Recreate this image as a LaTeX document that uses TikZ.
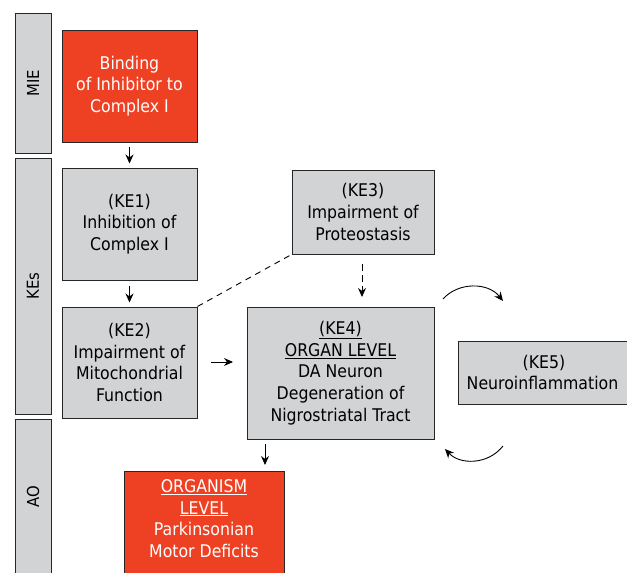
\documentclass[tikz,border=0pt]{standalone}
\usepackage{fontspec}
\setmainfont{DejaVu Sans Condensed}
\usetikzlibrary{arrows.meta}
\definecolor{aopred}{HTML}{EE4124}
\definecolor{aopgrey}{HTML}{D1D3D4}
\begin{document}
\begin{tikzpicture}[x=1pt,y=-1pt,
  box/.style={draw=black!85,line width=1pt,align=center,inner sep=0pt,font=\fontsize{17.5}{21.7}\selectfont},
  greybox/.style={box,fill=aopgrey,text=black},
  redbox/.style={box,fill=aopred,text=white},
  side/.style={draw=black!85,line width=1pt,fill=aopgrey,inner sep=0pt},
  sidelabel/.style={rotate=90,font=\fontsize{16.5}{18}\selectfont},
  arr/.style={-{Stealth[length=9pt,width=8pt]},line width=0.9pt},
  dsh/.style={dashed,dash pattern=on 6pt off 5pt,line width=0.9pt}]
\useasboundingbox (0,0) rectangle (627,573);
\begin{scope}
\clip (0,0) rectangle (627,573);
% sidebars
\node[side,minimum width=36pt,minimum height=140pt] (smie) at (33,83) {};
\node[side,minimum width=36pt,minimum height=256pt] (skes) at (33,286) {};
\node[side,minimum width=36pt,minimum height=170pt] (sao) at (33,504) {};
\node[redbox,minimum width=135pt,minimum height=112pt] (mie) at (129.5,86) {Binding\\of Inhibitor to\\Complex I};
\node[greybox,minimum width=135pt,minimum height=112pt] (ke1) at (129.5,224) {(KE1)\\Inhibition of\\Complex I};
\node[greybox,minimum width=135pt,minimum height=111pt] (ke2) at (129.5,362.5) {(KE2)\\Impairment of\\Mitochondrial\\Function};
\node[greybox,minimum width=142pt,minimum height=84pt] (ke3) at (363,212) {(KE3)\\Impairment of\\Proteostasis};
\node[greybox,minimum width=187pt,minimum height=132pt] (ke4) at (340.5,373) {\underline{(KE4)}\\\underline{ORGAN LEVEL}\\DA Neuron\\Degeneration of\\Nigrostriatal Tract};
\node[greybox,minimum width=172pt,minimum height=63pt] (ke5) at (544,372.5) {(KE5)\\Neuroinflammation\hspace*{3pt}};
\node[redbox,minimum width=160pt,minimum height=130pt,anchor=north] (ao) at (204,471) {};
\end{scope}
\node[sidelabel] (lmie) at (33,83) {MIE};
\node[sidelabel] (lkes) at (33,286) {KEs};
\node[sidelabel] (lao) at (33,497) {AO};
\node[text=white,align=center,font=\fontsize{17.5}{21.7}\selectfont,anchor=north] (aot) at (204,476) {\underline{ORGANISM}\\\underline{LEVEL}\\Parkinsonian\\Motor Deficits};
% arrows
\draw[arr] (mie.south) ++(0,4) coordinate (a1) -- ++(0,17) coordinate (a1e);
\draw[arr] (ke1.south) ++(0,5) coordinate (a2) -- ++(0,17) coordinate (a2e);
\draw[arr] (211,362) coordinate (h1) -- (233,362) coordinate (h2);
\draw[arr,dsh,dash pattern=on 7pt off 4pt] (362,264) coordinate (d1) -- (362,297) coordinate (d2);
\draw[arr] (265,444) coordinate (v1) -- (265,465) coordinate (v2);
\draw[dsh] (ke2.north east) -- (ke3.south west);
\draw[arr] (443,299) coordinate (c1) .. controls (458,282) and (488,282) .. (503,301) coordinate (c2);
\draw[arr] (503,446) coordinate (c3) .. controls (488,465) and (460,465) .. (445,449) coordinate (c4);
\end{tikzpicture}
\end{document}
